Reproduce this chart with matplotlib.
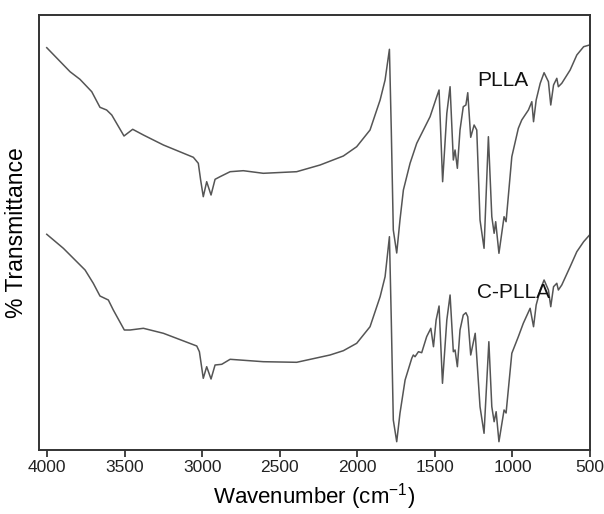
import matplotlib
matplotlib.use("Agg")
import matplotlib.pyplot as plt

plt.rcParams['font.family'] = ['Liberation Sans', 'DejaVu Sans']
plt.rcParams['mathtext.default'] = 'regular'

# Wavenumbers (cm-1) and transmittance (arbitrary units, offset curves)
pla_wn = [4002, 3852, 3788, 3712, 3659, 3616, 3583, 3504, 3448, 3379, 3250, 3057, 3025, 3010,
          2993, 2971, 2943, 2917, 2885, 2820, 2735, 2606, 2391, 2240, 2090, 2004, 1918, 1853,
          1821, 1793, 1781, 1768, 1746, 1725, 1703, 1660, 1617, 1531, 1488, 1473, 1450, 1423,
          1402, 1381, 1370, 1355, 1338, 1317, 1300, 1288, 1269, 1247, 1230, 1209, 1183, 1155,
          1133, 1118, 1108, 1087, 1054, 1041, 1004, 962, 940, 897, 875, 864, 847, 821, 796,
          768, 753, 735, 714, 704, 682, 628, 585, 541, 503]
pla_t = [402.3, 378.3, 370.7, 358.3, 342.7, 340, 335, 314, 320.7, 315, 305, 292.7, 286.7, 270,
         253.3, 268.3, 255, 270.7, 273.3, 278.3, 279.3, 276.7, 278.3, 285, 294, 303.3, 320, 350,
         370, 400.7, 320, 220, 197, 230, 260, 286.7, 306.7, 333.3, 353.3, 360, 268.3, 336.7,
         363.3, 290, 300, 281.7, 320, 343.3, 345, 357.3, 312.7, 325, 320, 230, 201.7, 313.3,
         233.3, 216.7, 228.3, 196.7, 233.3, 228.3, 293.3, 321.7, 330, 340, 348.3, 328.3, 350,
         366.7, 377.3, 368.3, 345, 365, 371.7, 363.3, 366.7, 380, 395, 403.3, 405]

cpla_wn = [4002, 3895, 3755, 3702, 3659, 3605, 3573, 3502, 3465, 3379, 3250, 3035, 3018, 2993,
           2971, 2943, 2917, 2874, 2820, 2606, 2391, 2176, 2090, 2004, 1918, 1853, 1821, 1793,
           1781, 1768, 1746, 1725, 1692, 1649, 1639, 1628, 1606, 1585, 1553, 1526, 1509, 1492,
           1473, 1451, 1423, 1402, 1381, 1370, 1355, 1338, 1317, 1300, 1288, 1269, 1240, 1209,
           1183, 1152, 1133, 1118, 1105, 1087, 1054, 1041, 1004, 962, 930, 886, 864, 847, 821,
           796, 768, 753, 735, 714, 704, 682, 628, 585, 541, 503]
cpla_t = [215.7, 201.7, 180, 166.7, 154, 150, 140, 120, 120, 121.7, 116.7, 104, 98.3, 71.7,
          83.3, 71, 85, 85.7, 90.7, 88.3, 87.7, 95, 99.3, 106.7, 123.3, 153.3, 173.3, 213.3,
          130, 30, 8.3, 36.7, 70, 91.7, 95, 93.3, 98.3, 97.3, 113.3, 121.7, 103.3, 130,
          144, 66.7, 130, 155, 98.3, 100, 83.3, 120, 135, 137.3, 133.3, 95, 116.7, 43.3,
          16.7, 108.3, 43.3, 28.3, 38.3, 8.3, 40, 37, 96.7, 113.3, 126.7, 141.7, 123.3, 145,
          160, 170, 160, 143.3, 163.3, 166.7, 160, 165, 183.3, 198.3, 208.3, 215]

labels = ["PLLA", "C-PLLA"]
label_pos = [(1230, 369), (1230, 157)]
xticks = [4000, 3500, 3000, 2500, 2000, 1500, 1000, 500]

fig = plt.figure(figsize=(6.04, 5.14), dpi=100)
ax = fig.add_axes([39/604, 64/514, 551/604, 435/514])

line_color = '#555555'
ax.plot(pla_wn, pla_t, color=line_color, lw=1.1)
ax.plot(cpla_wn, cpla_t, color=line_color, lw=1.1)

for lab, (x, y) in zip(labels, label_pos):
    ax.text(x, y, lab, fontsize=15, ha='left', va='center', color='#111111')

ax.set_xlim(4052, 500)
ax.set_ylim(0, 435)
ax.set_xticks(xticks)
ax.set_xticklabels([str(t) for t in xticks], fontsize=12.5)
ax.set_yticks([])
ax.tick_params(axis='x', direction='out', length=5, width=1.2, pad=2.5, colors='#222222')
for s in ax.spines.values():
    s.set_linewidth(1.4)
    s.set_color('#333333')

ax.set_xlabel('Wavenumber (cm$^{-1}$)', fontsize=16, labelpad=4)
ax.set_ylabel('% Transmittance', fontsize=16.5, labelpad=8)

fig.savefig('out.png', dpi=100)
